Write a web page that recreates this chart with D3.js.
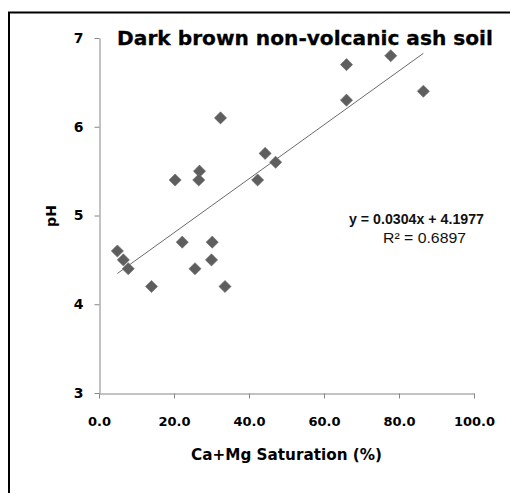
<!DOCTYPE html>
<html><head><meta charset="utf-8">
<script src="https://cdn.jsdelivr.net/npm/d3@7"></script>
<style>html,body{margin:0;padding:0;background:#fff;overflow:hidden}</style>
</head><body>
<svg id="chart" width="510" height="493"></svg>
<script>
const title = "Dark brown non-volcanic ash soil";
const xTitle = "Ca+Mg Saturation (%)";
const yTitle = "pH";
const satValues = [4.9, 6.5, 7.8, 14.0, 20.3, 22.2, 25.6, 26.8, 26.6, 30.2, 30.0, 33.6, 32.4, 42.3, 44.3, 47.1, 66.0, 66.0, 77.8, 86.5];
const phValues  = [4.6, 4.5, 4.4, 4.2, 5.4, 4.7, 4.4, 5.5, 5.4, 4.7, 4.5, 4.2, 6.1, 5.4, 5.7, 5.6, 6.7, 6.3, 6.8, 6.4];
const xTicks = [0, 20, 40, 60, 80, 100];
const yTicks = [3, 4, 5, 6, 7];
const slope = 0.0304, intercept = 4.1977;
const eqLabel = "y = 0.0304x + 4.1977";
const r2Label = "R² = 0.6897";

const svg = d3.select("#chart");
const FONT = "'DejaVu Sans', sans-serif";
const FONT2 = "'Liberation Sans', Arial, sans-serif";

// outer frame
svg.append("rect").attr("x", 9).attr("y", 12.5).attr("width", 520).attr("height", 500)
  .attr("fill", "none").attr("stroke", "#000").attr("stroke-width", 2);

const x = d3.scaleLinear().domain([0, 100]).range([99, 474]);
const y = d3.scaleLinear().domain([3, 7]).range([393, 38]);

const gx = svg.append("g").attr("transform", "translate(0,393.5)")
  .call(d3.axisBottom(x).tickValues(xTicks).tickFormat(d3.format(".1f")).tickSizeInner(5).tickSizeOuter(0).tickPadding(18));
const gy = svg.append("g").attr("transform", "translate(99.5,0)")
  .call(d3.axisLeft(y).tickValues(yTicks).tickFormat(d3.format("d")).tickSizeInner(5).tickSizeOuter(0).tickPadding(11));
[gx, gy].forEach(g => {
  g.select(".domain").attr("stroke", "#868686");
  g.selectAll(".tick line").attr("stroke", "#868686");
  g.selectAll(".tick text").attr("fill", "#000").attr("font-family", FONT)
    .attr("font-weight", "bold").attr("font-size", 13);
});
gy.selectAll(".tick text").attr("font-size", 14);

function fit(sel, w, base) {
  const len = sel.node().getComputedTextLength();
  sel.attr("font-size", base * w / len);
}

// title
const t = svg.append("text").attr("x", 305).attr("y", 45).attr("text-anchor", "middle")
  .attr("font-family", FONT).attr("font-weight", "bold").attr("font-size", 18)
  .attr("stroke", "#000").attr("stroke-width", 0.3).text(title);
fit(t, 376, 18);

// x title
const xt = svg.append("text").attr("x", 286.5).attr("y", 460).attr("text-anchor", "middle")
  .attr("font-family", FONT).attr("font-weight", "bold").attr("font-size", 13).text(xTitle);
fit(xt, 191, 13);

// y title
svg.append("text").attr("transform", "translate(56,216) rotate(-90)").attr("text-anchor", "middle")
  .attr("font-family", FONT).attr("font-weight", "bold").attr("font-size", 14).text(yTitle);

// trend line
const xmin = d3.min(satValues), xmax = d3.max(satValues);
svg.append("line")
  .attr("x1", x(xmin)).attr("y1", y(intercept + slope * xmin))
  .attr("x2", x(xmax)).attr("y2", y(intercept + slope * xmax))
  .attr("stroke", "#444").attr("stroke-width", 0.8);

// points
const sym = d3.symbol().type(d3.symbolSquare).size(74);
svg.append("g").selectAll("path").data(satValues.map((v, i) => [v, phValues[i]])).join("path")
  .attr("d", sym)
  .attr("transform", d => `translate(${x(d[0])},${y(d[1])}) rotate(45)`)
  .attr("fill", "#5e5e5e").attr("stroke", "#6e6e6e").attr("stroke-width", 0.6);

// equation labels
svg.append("text").attr("x", 349).attr("y", 224).attr("font-family", FONT2)
  .attr("font-size", 15).attr("fill", "#111").attr("font-weight", "bold")
  .attr("textLength", 135).attr("lengthAdjust", "spacingAndGlyphs").text(eqLabel);
svg.append("text").attr("x", 383).attr("y", 243).attr("font-family", FONT2)
  .attr("font-size", 15).attr("fill", "#111")
  .attr("textLength", 83).attr("lengthAdjust", "spacingAndGlyphs").text(r2Label);
</script>
</body></html>
